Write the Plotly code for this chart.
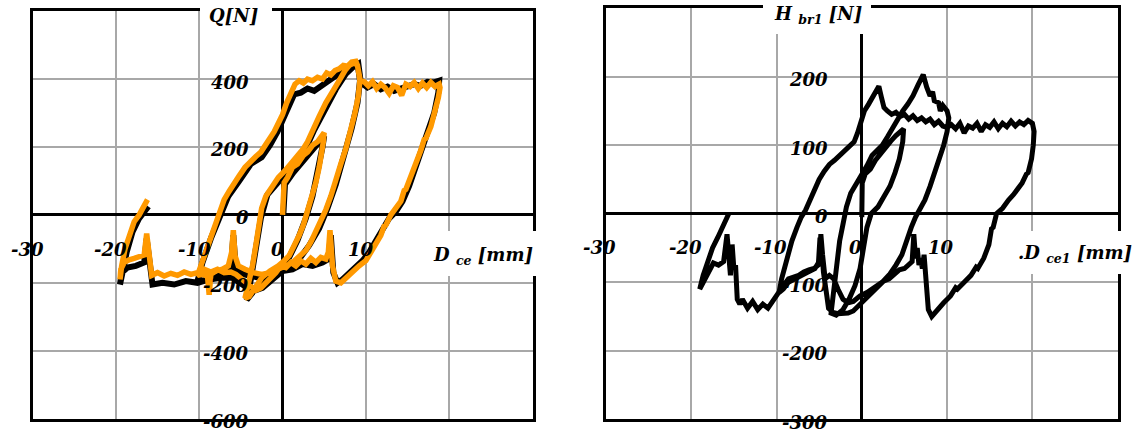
import plotly.graph_objects as go

# ---------------------------------------------------------------
# Left panel: shear force Q [N] against displacement D_ce [mm]
# two records of the same cyclic test (black and orange)
# ---------------------------------------------------------------
black_pts = [
    (0.1, 0), (0.3, 90), (1.3, 125), (2.6, 165), (3.7, 195), (4.6, 220), (5.0, 232),
    (4.8, 200), (4.3, 130), (3.6, 55), (2.8, -10), (1.8, -75), (0.8, -125), (-0.4, -155),
    (-1.8, -175), (-3.2, -215), (-4.3, -250),
    (-3.8, -190), (-3.2, -100), (-2.6, -10), (-1.8, 60), (-0.4, 100), (1.1, 140), (2.6, 185),
    (3.8, 250), (5.2, 320), (6.4, 370), (7.6, 415), (8.6, 440), (9.0, 448),
    (9.3, 395), (9.0, 330), (8.3, 255), (7.4, 170), (6.4, 90), (5.4, 20), (4.4, -40),
    (3.2, -90), (2.0, -130), (0.6, -155), (-1.0, -175), (-2.8, -185), (-4.6, -175),
    (-5.6, -160), (-5.9, -60), (-6.2, -165), (-7.6, -180), (-8.8, -190), (-10.2, -195),
    (-9.6, -140), (-8.6, -70), (-7.5, 0), (-6.5, 55), (-5.2, 100), (-3.8, 150), (-2.5, 170),
    (-1.5, 205), (-0.6, 245), (0.2, 285), (0.9, 330), (1.4, 355), (2.2, 360), (3.0, 372),
    (3.8, 365), (4.6, 380), (5.4, 395), (6.2, 410), (7.0, 420), (7.8, 428), (8.6, 440),
    (9.1, 445), (9.4, 390), (10.2, 375), (11.0, 385), (11.8, 370), (12.6, 378), (13.4, 365),
    (14.2, 372), (15.0, 380), (15.8, 385), (16.6, 380), (17.4, 392), (18.2, 390), (18.8, 395),
    (18.7, 360), (18.2, 300), (17.5, 250), (16.8, 200), (16.0, 140), (15.2, 85), (14.4, 40),
    (13.6, 10), (12.8, -10), (12.0, -45), (11.2, -80), (10.4, -110), (9.6, -135), (8.8, -155),
    (8.0, -175), (7.2, -190), (6.6, -200), (6.1, -170), (5.8, -60), (5.5, -130), (4.8, -140),
    (3.6, -150), (2.4, -145), (1.2, -160), (0.0, -165), (-1.2, -190), (-2.4, -215),
    (-3.6, -225), (-4.8, -205), (-6.0, -185), (-7.4, -185), (-8.8, -190), (-10.2, -200),
    (-11.6, -195), (-13.0, -205), (-14.4, -200), (-15.6, -205), (-16.0, -140), (-16.3, -70),
    (-16.6, -140), (-17.6, -150), (-18.6, -155), (-19.3, -170), (-19.5, -205),
    (-19.2, -170), (-18.7, -110), (-18.0, -50), (-17.2, -10), (-16.4, 15), (-16.1, 25),
]

orange_pts = [
    (0.0, 0), (0.1, 60), (0.2, 95), (0.6, 110), (1.2, 140), (1.8, 150), (2.5, 175),
    (3.0, 185), (3.6, 205), (4.2, 215), (4.6, 230), (5.0, 242),
    (4.9, 215), (4.7, 180), (4.4, 140), (4.0, 95), (3.5, 50), (3.0, 10), (2.5, -30),
    (2.0, -60), (1.4, -95), (0.8, -120), (0.2, -135), (-0.5, -150), (-1.5, -165),
    (-2.5, -185), (-3.3, -215), (-4.0, -240), (-4.5, -245),
    (-4.0, -200), (-3.6, -150), (-3.2, -90), (-2.8, -20), (-2.5, 20), (-2.0, 55),
    (-1.3, 80), (-0.5, 110), (0.3, 130), (1.0, 150), (1.8, 175), (2.5, 195), (3.0, 215),
    (3.6, 250), (4.4, 290), (5.2, 330), (6.0, 360), (6.8, 395), (7.5, 425), (8.0, 440),
    (8.6, 448),
    (9.0, 440), (9.3, 400), (9.1, 350), (8.7, 300), (8.2, 250), (7.6, 195), (7.0, 150),
    (6.4, 100), (5.8, 55), (5.2, 15), (4.6, -20), (4.0, -50), (3.4, -80), (2.8, -105),
    (2.0, -125), (1.2, -140), (0.4, -150), (-0.5, -160), (-1.5, -170), (-2.5, -175),
    (-3.5, -170), (-4.5, -160), (-5.3, -150), (-5.7, -120), (-5.9, -45), (-6.1, -110),
    (-6.5, -150), (-7.2, -160), (-8.0, -165), (-8.6, -175), (-8.8, -235), (-9.0, -180),
    (-9.6, -175), (-10.2, -178),
    (-9.8, -150), (-9.4, -115), (-8.8, -75), (-8.2, -40), (-7.6, 0), (-7.0, 45),
    (-6.4, 70), (-5.8, 95), (-5.2, 115), (-4.5, 140), (-3.8, 160), (-3.2, 172),
    (-2.6, 185), (-2.0, 205), (-1.5, 222), (-1.0, 245), (-0.5, 270), (0.0, 295),
    (0.5, 330), (1.0, 360), (1.5, 385), (2.0, 395), (2.5, 388), (3.0, 400), (3.6, 395),
    (4.2, 405), (4.8, 400), (5.3, 418), (5.8, 412), (6.3, 425), (6.8, 430), (7.3, 440),
    (7.8, 438), (8.3, 450), (8.8, 452), (9.0, 440), (9.3, 395), (9.8, 392), (10.3, 380),
    (10.8, 392), (11.3, 372), (11.8, 385), (12.3, 375), (12.8, 358), (13.3, 380),
    (13.8, 375), (14.3, 352), (14.8, 385), (15.3, 378), (15.8, 390), (16.3, 372),
    (16.8, 388), (17.3, 375), (17.8, 390), (18.3, 378), (18.8, 385),
    (18.9, 375), (18.7, 345), (18.3, 300), (18.1, 296), (17.8, 260), (17.2, 225),
    (17.0, 222), (16.6, 190), (16.0, 150), (15.8, 146), (15.4, 110), (14.8, 75),
    (14.6, 72), (14.2, 40), (13.6, 20), (13.0, 0), (12.4, -30), (12.2, -33),
    (11.8, -60), (11.2, -85), (10.6, -110), (10.0, -135), (9.2, -150),
    (8.4, -170), (7.6, -190), (7.0, -200), (6.4, -195), (6.0, -150), (5.7, -45),
    (5.5, -110), (5.2, -130), (4.6, -125), (4.0, -140), (3.4, -128), (2.8, -145),
    (2.2, -135), (1.6, -150), (1.0, -140), (0.4, -155), (-0.2, -150), (-0.8, -170),
    (-1.4, -185), (-2.0, -200), (-2.6, -215), (-3.2, -222), (-3.8, -210), (-4.4, -195),
    (-5.0, -185), (-5.6, -175), (-6.2, -168), (-7.0, -170), (-7.8, -160), (-8.6, -168),
    (-9.4, -160), (-10.2, -170), (-11.0, -175), (-11.8, -168), (-12.6, -178),
    (-13.4, -172), (-14.2, -180), (-15.0, -170), (-15.7, -178), (-16.0, -120),
    (-16.3, -55), (-16.6, -118), (-17.2, -125), (-17.8, -128), (-18.4, -132),
    (-19.0, -140), (-19.4, -160), (-19.5, -190),
    (-19.3, -150), (-18.9, -100), (-18.4, -60), (-17.8, -20), (-17.2, 0), (-16.7, 25),
    (-16.2, 45),
]

# ---------------------------------------------------------------
# Right panel: brace force H_br1 [N] against displacement D_ce1 [mm]
# ---------------------------------------------------------------
brace_pts = [
    (0.0, -5), (0.0, 20), (0.05, 45), (0.4, 58), (1.0, 65), (1.6, 78), (2.2, 88),
    (2.8, 98), (3.4, 106), (4.0, 114), (4.5, 120), (4.9, 124),
    (4.8, 105), (4.4, 80), (3.9, 60), (3.3, 40), (2.6, 25), (1.9, 10), (1.1, 0),
    (0.6, -20), (0.2, -50), (-0.2, -80), (-0.8, -105), (-1.5, -125), (-2.2, -140),
    (-3.0, -148), (-3.6, -145),
    (-3.3, -110), (-3.0, -75), (-2.6, -40), (-2.2, -15), (-1.8, 10), (-1.3, 30),
    (-0.6, 45), (0.0, 55), (0.6, 70), (1.2, 85), (1.8, 92), (2.4, 100), (3.0, 112),
    (3.6, 125), (4.2, 140), (4.8, 150), (5.4, 160), (6.0, 172), (6.6, 188), (7.2, 203),
    (7.6, 185), (8.0, 172), (8.3, 178), (8.5, 165), (9.0, 162), (9.2, 150), (9.5, 158),
    (10.0, 150), (10.2, 140), (10.0, 120), (9.6, 100), (9.1, 80), (8.6, 60), (8.0, 40),
    (7.4, 20), (6.8, 8), (6.3, -5), (5.8, -20), (5.3, -40), (4.7, -60), (4.0, -75),
    (3.3, -88), (2.4, -100), (1.5, -108), (0.6, -115), (-0.2, -120), (-1.0, -128),
    (-1.6, -130), (-2.2, -125), (-2.8, -110), (-3.3, -95), (-3.8, -90), (-4.3, -95),
    (-4.6, -60), (-4.8, -30), (-5.0, -70), (-5.5, -80), (-6.3, -85), (-7.0, -90),
    (-7.8, -95), (-8.6, -100), (-9.2, -110), (-9.7, -115),
    (-9.4, -95), (-8.9, -70), (-8.2, -40), (-7.6, -20), (-7.1, -5), (-6.6, 5),
    (-6.1, 20), (-5.6, 35), (-5.0, 50), (-4.4, 62), (-3.8, 72), (-3.2, 78), (-2.6, 85),
    (-2.0, 92), (-1.4, 98), (-0.9, 105), (-0.5, 118), (-0.1, 135), (0.3, 150),
    (0.8, 160), (1.3, 172), (1.7, 180), (2.0, 186), (2.3, 170), (2.6, 155), (3.0, 150),
    (3.5, 145), (4.0, 148), (4.5, 142), (5.0, 145), (5.5, 138), (6.0, 143), (6.5, 136),
    (7.0, 140), (7.5, 134), (8.0, 138), (8.5, 130), (9.0, 135), (9.5, 128), (10.0, 126),
    (10.5, 130), (11.0, 124), (11.5, 132), (12.0, 118), (12.5, 128), (13.0, 125),
    (13.5, 132), (14.0, 120), (14.5, 130), (15.0, 126), (15.5, 134), (16.0, 124),
    (16.5, 132), (17.0, 127), (17.5, 135), (18.0, 128), (18.5, 134), (19.0, 130),
    (19.5, 136), (20.0, 132), (20.2, 125),
    (20.2, 120), (20.1, 100), (19.9, 80), (19.5, 60), (19.3, 58), (18.8, 45), (18.0, 30),
    (17.8, 28), (17.2, 20), (16.5, 8), (15.8, 0), (15.4, -20), (15.2, -22), (14.9, -45),
    (14.3, -65), (13.6, -80), (13.4, -78), (12.8, -90), (12.0, -100), (11.2, -110),
    (11.0, -108), (10.4, -120), (9.6, -130), (8.8, -140), (8.2, -150),
    (7.8, -140), (7.5, -100), (7.3, -60), (7.1, -80), (6.9, -65), (6.7, -75), (6.5, -50),
    (6.3, -65), (6.1, -30), (5.9, -70), (5.5, -75), (5.0, -80), (4.4, -82), (3.8, -88),
    (3.2, -95), (2.6, -98), (2.0, -105), (1.4, -112), (0.8, -120), (0.2, -128),
    (-0.4, -135), (-1.0, -142), (-1.6, -145), (-2.2, -146), (-2.8, -146), (-3.4, -144),
    (-3.9, -138), (-4.1, -120), (-4.3, -100), (-4.5, -85), (-4.7, -50), (-4.9, -35),
    (-5.1, -75), (-5.6, -80), (-6.2, -82), (-6.8, -85), (-7.4, -90), (-8.0, -92),
    (-8.6, -95), (-9.2, -105), (-9.8, -115), (-10.4, -128), (-11.0, -138),
    (-11.6, -132), (-12.2, -140), (-12.8, -128), (-13.4, -138), (-14.0, -125),
    (-14.3, -132), (-14.6, -125), (-14.8, -75), (-15.0, -80), (-15.2, -45),
    (-15.4, -90), (-15.8, -30), (-16.2, -70), (-16.8, -75), (-17.4, -72), (-18.0, -85),
    (-18.6, -100), (-19.0, -110),
    (-18.6, -90), (-18.1, -70), (-17.5, -50), (-16.9, -35), (-16.4, -20), (-16.0, -10),
    (-15.6, 0),
]

x_tick_vals = [-30, -20, -10, 0, 10]
q_tick_vals = [400, 200, 0, -200, -400, -600]
h_tick_vals = [200, 100, 0, -100, -200, -300]

dce_black, q_black = zip(*black_pts)
dce_orange, q_orange = zip(*orange_pts)
dce1, h_br1 = zip(*brace_pts)

W, H = 1137, 432
ORANGE = "#FF9900"
FONT = dict(family="DejaVu Serif", size=18, color="black", weight="bold", style="italic")


def fx(px):
    return px / W


def fy(py):
    return 1 - py / H


fig = go.Figure()
fig.add_trace(go.Scatter(x=dce_black, y=q_black, mode="lines",
                         line=dict(color="black", width=6), xaxis="x", yaxis="y"))
fig.add_trace(go.Scatter(x=dce_orange, y=q_orange, mode="lines",
                         line=dict(color=ORANGE, width=5.5), xaxis="x", yaxis="y"))
fig.add_trace(go.Scatter(x=dce1, y=h_br1, mode="lines",
                         line=dict(color="black", width=5), xaxis="x2", yaxis="y2"))

axis_style = dict(
    showgrid=True, gridcolor="#a8a8a8", gridwidth=1.5,
    zeroline=True, zerolinecolor="black", zerolinewidth=3,
    showline=True, mirror=True, linecolor="black", linewidth=3,
    showticklabels=False, ticks="", fixedrange=True,
)

fig.update_layout(
    width=W, height=H,
    margin=dict(l=0, r=0, t=0, b=0),
    paper_bgcolor="white", plot_bgcolor="white",
    showlegend=False,
    xaxis=dict(domain=[fx(32.5), fx(532.5)], range=[-30, 30], dtick=10, anchor="y", **axis_style),
    yaxis=dict(domain=[fy(418.7), fy(11.1)], range=[-600, 600], dtick=200, anchor="x", **axis_style),
    xaxis2=dict(domain=[fx(605.9), fx(1117.7)], range=[-30, 30], dtick=10, anchor="y2", **axis_style),
    yaxis2=dict(domain=[fy(419.2), fy(8.2)], range=[-300, 300], dtick=100, anchor="x2", **axis_style),
)

# white panels behind the axis titles, breaking the frame
title_boxes = [
    (200, 0, 272, 26),
    (763, 0, 871, 34),
    (428, 231, 548, 276),
    (1005, 231, 1137, 274),
]
for x0, y0, x1, y1 in title_boxes:
    fig.add_shape(type="rect", xref="paper", yref="paper",
                  x0=fx(x0), x1=fx(x1), y0=fy(y1), y1=fy(y0),
                  fillcolor="white", line=dict(width=0), layer="above")

ann = []
# tick labels placed next to the zero axes
for xref, yref, xs, ys in (("x", "y", -5, -35), ("x2", "y2", -6, -34)):
    for v in x_tick_vals:
        ann.append(dict(x=v, y=0, xref=xref, yref=yref, text=str(v), showarrow=False,
                        xanchor="center", yanchor="middle", xshift=xs, yshift=ys, font=FONT))
for xref, yref, vals in (("x", "y", q_tick_vals), ("x2", "y2", h_tick_vals)):
    for v in vals:
        ann.append(dict(x=0, y=v, xref=xref, yref=yref, text=str(v), showarrow=False,
                        xanchor="right", yanchor="middle", xshift=-32, yshift=-3, font=FONT))

# axis titles
ann += [
    dict(x=fx(233), y=fy(15.5), xref="paper", yref="paper", text="Q[N]",
         showarrow=False, xanchor="center", yanchor="middle", font=FONT),
    dict(x=fx(818), y=fy(15), xref="paper", yref="paper", text="H <sub>br1</sub> [N]",
         showarrow=False, xanchor="center", yanchor="middle", font=FONT),
    dict(x=fx(483), y=fy(256), xref="paper", yref="paper", text="D <sub>ce</sub> [mm]",
         showarrow=False, xanchor="center", yanchor="middle", font=FONT),
    dict(x=fx(1075), y=fy(254), xref="paper", yref="paper", text=".D <sub>ce1</sub> [mm]",
         showarrow=False, xanchor="center", yanchor="middle", font=FONT),
]
fig.update_layout(annotations=ann)

fig.write_html("out.html")
